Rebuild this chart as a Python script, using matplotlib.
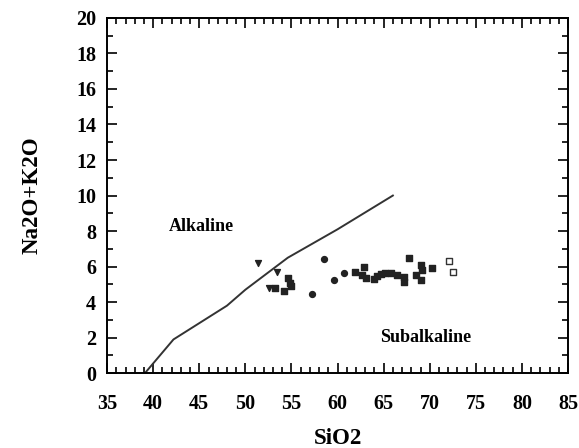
import matplotlib.pyplot as plt
from matplotlib.ticker import MultipleLocator

plt.rcParams['font.family'] = 'Liberation Serif'
plt.rcParams['font.weight'] = 'bold'

# Irvine & Baragar alkaline / subalkaline divide
div_sio2 = [39.1, 42.2, 48.0, 50.0, 54.6, 60.0, 66.0]
div_alk = [0.0, 1.9, 3.8, 4.7, 6.5, 8.1, 10.0]

# samples
sq_sio2 = [53.2, 54.2, 54.6, 54.8, 55.0, 61.9, 62.9, 62.7, 63.1, 64.0, 64.3, 64.7,
           65.1, 65.8, 66.5, 67.2, 67.2, 67.7, 68.5, 69.0, 69.2, 69.0, 70.3]
sq_alk = [4.82, 4.63, 5.35, 5.07, 4.88, 5.72, 6.0, 5.54, 5.35, 5.29, 5.48, 5.59,
          5.63, 5.63, 5.54, 5.44, 5.16, 6.5, 5.54, 6.1, 5.82, 5.25, 5.92]
ci_sio2 = [58.5, 57.2, 59.6, 60.7]
ci_alk = [6.44, 4.46, 5.25, 5.63]
tri_sio2 = [51.4, 53.4, 52.6]
tri_alk = [6.2, 5.69, 4.79]
open_sio2 = [72.1, 72.5]
open_alk = [6.29, 5.72]

fig = plt.figure(figsize=(5.79, 4.48), dpi=100)
ax = fig.add_axes([0.185, 0.167, 0.796, 0.793])

ax.plot(div_sio2, div_alk, color='#333333', lw=1.4)
ax.scatter(sq_sio2, sq_alk, marker='s', s=16, color='#222222')
ax.scatter(ci_sio2, ci_alk, marker='o', s=18, color='#222222')
ax.scatter(tri_sio2, tri_alk, marker='v', s=18, color='#222222')
ax.scatter(open_sio2, open_alk, marker='s', s=18, facecolor='white',
           edgecolor='#333333', linewidths=1)

ax.text(45.2, 8.25, 'Alkaline', ha='center', va='center', fontsize=13, fontweight='bold')
ax.text(69.6, 2.03, 'Subalkaline', ha='center', va='center', fontsize=13, fontweight='bold')

ax.set_xlim(35, 85)
ax.set_ylim(0, 20)
ax.xaxis.set_major_locator(MultipleLocator(5))
ax.xaxis.set_minor_locator(MultipleLocator(1))
ax.yaxis.set_major_locator(MultipleLocator(2))
ax.yaxis.set_minor_locator(MultipleLocator(1))
ax.tick_params(which='both', direction='in', top=True, right=True, width=1.2)
ax.tick_params(which='major', length=7, labelsize=14.5)
ax.tick_params(axis='x', which='major', pad=15)
ax.tick_params(axis='y', which='major', pad=8)
ax.tick_params(which='minor', length=4)
for lab in ax.get_xticklabels() + ax.get_yticklabels():
    lab.set_fontweight('bold')
for sp in ax.spines.values():
    sp.set_linewidth(1.4)

ax.set_xlabel('SiO2', fontsize=16.5, fontweight='bold', labelpad=10)
ax.set_ylabel('Na2O+K2O', fontsize=16.5, fontweight='bold', labelpad=24)

fig.savefig('out.png', dpi=100)
